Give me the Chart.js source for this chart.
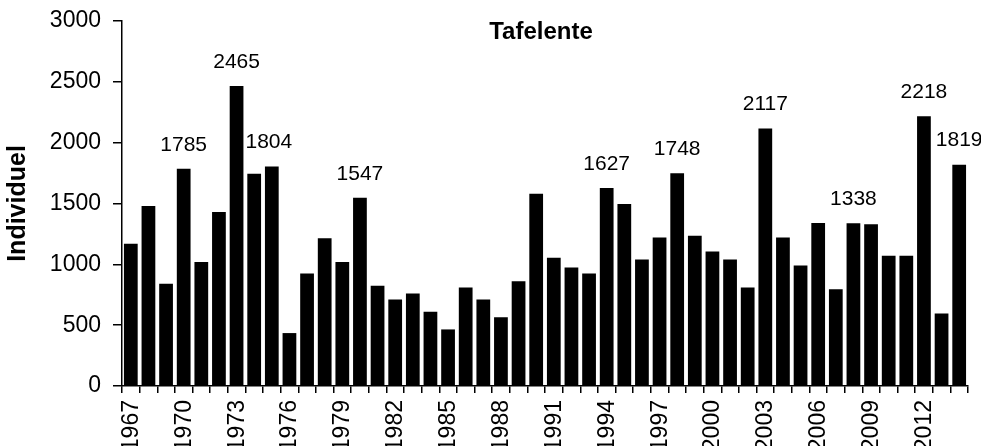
<!DOCTYPE html>
<html>
<head>
<meta charset="utf-8">
<script src="https://cdn.jsdelivr.net/npm/chart.js@4/dist/chart.umd.min.js"></script>
<style>
  html, body { margin: 0; padding: 0; background: #fff; overflow: hidden; }
  #wrap { position: relative; width: 981px; height: 446px; overflow: hidden; }
  canvas { display: block; }
  .yr {
    position: absolute;
    font: 23px 'Liberation Sans', Arial, sans-serif;
    line-height: 1;
    color: #000;
    white-space: nowrap;
    transform-origin: 0 0;
    transform: rotate(-90deg) translate(-100%, -50%);
  }
</style>
</head>
<body>
<div id="wrap"><canvas id="chart" width="981" height="446"></canvas></div>
<script>
const years = [
  1967, 1968, 1969, 1970, 1971, 1972, 1973, 1974, 1975, 1976, 1977, 1978,
  1979, 1980, 1981, 1982, 1983, 1984, 1985, 1986, 1987, 1988, 1989, 1990,
  1991, 1992, 1993, 1994, 1995, 1996, 1997, 1998, 1999, 2000, 2001, 2002,
  2003, 2004, 2005, 2006, 2007, 2008, 2009, 2010, 2011, 2012, 2013, 2014,
];
const counts = [
  1170, 1480, 840, 1785, 1020, 1430, 2465, 1745, 1804, 435, 925, 1215,
  1020, 1547, 825, 710, 760, 610, 465, 810, 710, 565, 860, 1580,
  1055, 975, 925, 1627, 1495, 1040, 1220, 1748, 1235, 1105, 1040, 810,
  2117, 1220, 990, 1340, 795, 1338, 1330, 1070, 1070, 2218, 595, 1819,
];
const tickYears = [1967, 1970, 1973, 1976, 1979, 1982, 1985, 1988, 1991, 1994, 1997, 2000, 2003, 2006, 2009, 2012];
const labelledYears = [1970, 1973, 1975, 1980, 1994, 1998, 2003, 2008, 2012, 2014];

const FONT = "'Liberation Sans', Arial, sans-serif";

// value labels above some bars, and the title inside the plot
const extras = {
  id: "extras",
  afterDraw(chart) {
    const ctx = chart.ctx;
    const area = chart.chartArea;
    const meta = chart.getDatasetMeta(0);
    ctx.save();
    ctx.fillStyle = "#000";
    ctx.textAlign = "center";
    ctx.textBaseline = "middle";
    ctx.font = "21px " + FONT;
    years.forEach((yr, i) => {
      if (!labelledYears.includes(yr)) return;
      const bar = meta.data[i];
      ctx.fillText(String(counts[i]), bar.x - (yr === 1975 ? 3 : 0), bar.y - 24);
    });
    ctx.font = "bold 24px " + FONT;
    ctx.fillText("Tafelente", (area.left + area.right) / 2 - 4, area.top + 11);
    ctx.restore();
  },
};

const chart = new Chart(document.getElementById("chart"), {
  type: "bar",
  data: {
    labels: years,
    datasets: [
      {
        data: counts,
        backgroundColor: "#000",
        borderWidth: 0,
        barPercentage: 0.78,
        categoryPercentage: 1,
      },
    ],
  },
  options: {
    responsive: false,
    animation: false,
    layout: { padding: { top: 21, right: 13, left: 0, bottom: 0 } },
    plugins: { legend: { display: false }, tooltip: { enabled: false } },
    scales: {
      x: {
        grid: { drawOnChartArea: false, color: "#000", lineWidth: 1.5, tickLength: 7, offset: true },
        border: { color: "#000", width: 1.5 },
        ticks: { display: false },
        afterFit(scale) {
          scale.height = 446 - 386;
        },
      },
      y: {
        min: 0,
        max: 3000,
        grid: { drawOnChartArea: false, color: "#000", lineWidth: 1.5, tickLength: 9 },
        border: { color: "#000", width: 1.5 },
        ticks: {
          stepSize: 500,
          padding: 12,
          color: "#000",
          font: { size: 23, family: FONT, lineHeight: 0.6 },
          callback: (v) => String(v),
        },
        title: {
          display: true,
          text: "Individuel",
          color: "#000",
          padding: { top: 3, bottom: 0 },
          font: { size: 25, weight: "bold", family: FONT },
        },
        afterFit(scale) {
          scale.width = 122;
        },
      },
    },
  },
  plugins: [extras],
});

// vertical year labels under every third bar
const wrap = document.getElementById("wrap");
const xScale = chart.scales.x;
years.forEach((yr, i) => {
  if (!tickYears.includes(yr)) return;
  const el = document.createElement("div");
  el.className = "yr";
  el.textContent = String(yr);
  el.style.left = xScale.getPixelForValue(i) - 1 + "px";
  el.style.top = chart.chartArea.bottom + 14 + "px";
  wrap.appendChild(el);
});
</script>
</body>
</html>
